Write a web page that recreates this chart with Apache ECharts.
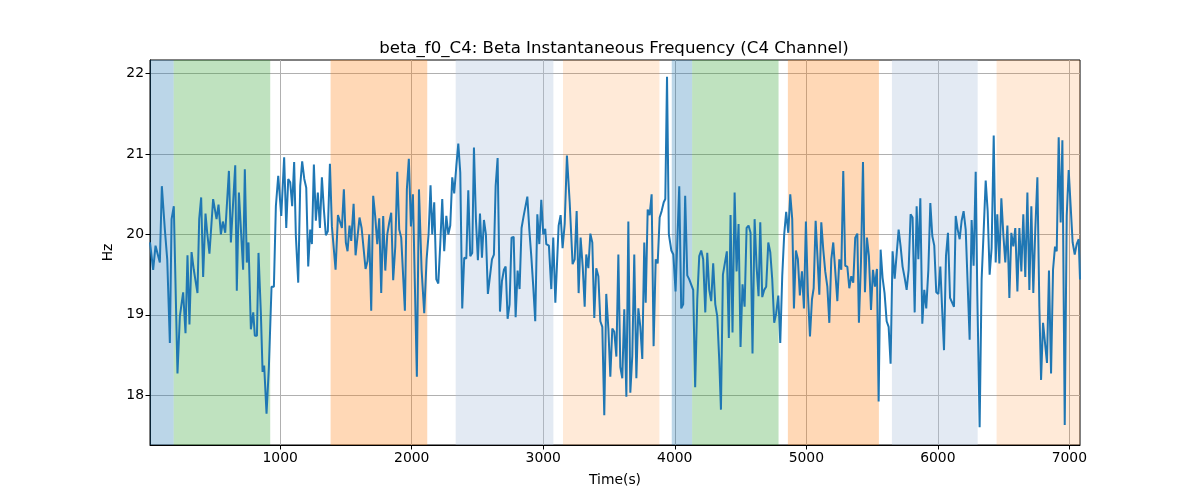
<!DOCTYPE html>
<html>
<head>
<meta charset="utf-8">
<script src="https://cdn.jsdelivr.net/npm/echarts@6/dist/echarts.min.js"></script>
<style>html,body{margin:0;padding:0;background:#fff;}#c{width:1200px;height:500px;}</style>
</head>
<body>
<div id="c"></div>
<script>
const times = [10,34,52,85,100,123,141,161,174,191,219,237,262,280,295,310,326,343,371,384,399,414,432,445,462,490,503,516,531,549,564,582,610,625,658,670,686,718,731,746,759,777,795,807,823,835,853,866,878,896,914,934,952,967,985,1008,
1030,1046,1061,1076,1091,1106,1119,1137,1152,1167,1183,1198,1213,1228,1241,1256,1271,1286,1302,1317,1332,1347,1362,1378,1393,1406,1421,1439,1454,1469,1484,1499,1512,1527,1540,1558,1573,1588,1603,1619,1634,1649,1664,1677,1692,1707,1722,1738,1753,1768,1783,1799,1814,1829,1844,1859,1875,1890,1905,1920,1935,1948,1963,1978,1994,2009,
2022,2039,2055,2075,2095,2113,2128,2143,2156,2171,2187,2202,2217,2232,2247,2263,2278,2293,2308,2323,2339,2354,2369,2384,2399,2415,2430,2445,2460,2473,2488,2503,2519,2534,2549,2564,2579,2595,2610,2625,2638,2653,2671,2686,2701,2714,2729,2744,2759,2775,2790,2805,2820,2835,2851,2866,2879,2894,2909,2924,2939,2955,2970,2985,3000,3015,
3023,3043,3061,3076,3092,3117,3132,3147,3163,3180,3201,3223,3239,3254,3269,3284,3300,3315,3327,3343,3358,3373,3388,3403,3419,3434,3449,3464,3479,3495,3510,3525,3540,3556,3571,3586,3601,3616,3632,3647,3662,3677,3692,3708,3723,3738,3753,3768,3779,3794,3809,3824,3839,3855,3870,3885,3900,3916,3928,3941,3955,3974,3989,4006,
4034,4049,4064,4079,4095,4110,4125,4140,4155,4171,4186,4201,4216,4232,4247,4262,4277,4292,4308,4323,4338,4351,4366,4381,4396,4411,4424,4439,4455,4470,4485,4500,4515,4531,4546,4561,4576,4591,4607,4622,4637,4650,4665,4680,4695,4711,4726,4741,4756,4771,4787,4802,4817,4832,4847,4863,4878,4893,4906,4921,4936,4951,4967,4982,4997,5012,5028,
5043,5056,5071,5086,5099,5114,5129,5144,5160,5175,5190,5205,5220,5236,5251,5266,5281,5296,5312,5327,5342,5357,5372,5388,5400,5416,5431,5446,5461,5476,5492,5507,5522,5537,5550,5565,5580,5595,5611,5626,5641,5656,5672,5687,5702,5717,5732,5748,5763,5778,5793,5808,5824,5839,5852,5867,5882,5897,5912,5928,5943,5958,5973,5988,6004,6019,
6032,6047,6062,6077,6093,6108,6123,6136,6151,6166,6181,6196,6212,6227,6242,6257,6272,6288,6300,6318,6333,6349,6364,6379,6394,6409,6425,6440,6452,6468,6483,6498,6513,6529,6544,6559,6574,6589,6605,6620,6635,6650,6665,6681,6696,6711,6726,6741,6757,6772,6785,6800,6815,6830,6845,6861,6876,6891,6904,6919,6934,6947,6965,6980,6995,7010,7025,7041,7056,7071,7081];

const freqHz = [19.90,19.56,19.86,19.65,20.60,20.06,19.69,18.65,20.19,20.35,18.27,18.98,19.28,18.77,19.74,18.88,19.78,19.56,19.27,20.19,20.46,19.47,20.26,20.02,19.76,20.44,20.42,20.19,20.37,20.00,20.16,20.02,20.79,19.90,20.86,19.30,20.52,19.56,20.81,19.65,19.90,18.82,19.03,18.74,18.74,19.77,19.02,18.29,18.37,17.77,18.35,19.35,19.35,20.35,20.73,20.23,
20.96,20.08,20.69,20.65,20.35,20.90,19.98,19.40,20.60,20.91,20.69,20.58,19.60,20.06,19.88,20.87,20.17,20.52,20.08,20.71,20.31,19.99,20.04,20.88,20.10,20.10,19.56,20.24,20.23,20.08,20.56,19.90,19.79,20.11,19.92,20.38,19.74,19.72,20.21,20.08,20.07,19.57,19.67,20.00,19.05,20.48,20.23,19.88,20.20,19.27,20.23,19.55,20.00,20.15,20.27,19.43,19.85,20.78,20.06,19.96,19.95,19.05,20.56,20.94,20.10,20.50,
20.52,18.23,20.56,19.56,19.02,19.69,20.00,20.61,20.00,20.40,19.44,19.39,19.88,20.44,19.79,20.23,20.00,20.11,20.71,20.51,20.85,21.13,20.77,19.08,19.71,19.70,20.55,19.73,19.77,21.08,20.19,19.68,20.26,19.71,20.18,20.00,19.26,19.48,19.69,19.75,20.60,20.95,19.04,19.42,19.56,19.60,18.95,19.13,19.96,19.97,18.97,19.55,19.32,20.08,20.23,20.24,20.47,20.06,19.73,19.35,18.92,20.25,19.88,20.43,20.00,20.07,
19.88,19.86,19.32,19.96,19.15,20.11,20.24,19.83,20.13,20.98,20.40,19.63,19.69,20.29,19.27,19.96,19.60,19.10,19.75,19.58,20.01,19.90,18.96,19.58,19.48,18.92,18.85,17.75,19.26,18.83,18.23,18.83,18.79,18.48,19.75,18.35,18.21,19.07,17.98,20.16,18.03,18.49,19.75,18.21,19.08,18.85,18.45,19.90,19.15,20.31,20.24,20.50,18.61,19.69,19.64,20.21,20.29,20.40,20.44,21.96,20.00,19.80,19.75,19.29,
20.60,19.08,19.13,20.48,19.49,19.44,19.42,19.31,18.10,19.19,19.73,19.80,19.69,19.03,19.77,19.31,19.17,19.64,19.13,18.98,18.44,17.82,19.50,19.52,19.79,18.71,20.24,18.78,20.52,19.54,20.13,18.60,19.38,19.10,20.08,20.11,20.02,18.52,20.19,19.60,19.23,20.15,19.22,19.31,19.35,19.90,19.78,19.44,18.90,19.02,19.24,18.65,19.48,20.00,20.28,20.02,20.50,20.19,19.08,19.80,19.69,19.24,19.54,19.08,20.16,19.27,18.73,
19.19,19.33,20.17,19.69,19.25,20.15,19.81,19.54,19.35,18.90,19.69,19.90,19.88,19.17,19.69,19.56,20.79,19.61,19.60,19.33,19.48,19.40,19.96,20.01,18.90,19.67,20.90,19.28,19.96,19.73,19.06,19.56,19.35,19.57,17.92,19.81,19.46,19.27,18.92,18.85,18.39,19.79,19.45,19.45,20.06,19.85,19.60,19.46,19.31,19.56,20.25,20.21,19.03,20.35,19.69,20.45,18.89,19.31,19.08,19.56,20.39,19.98,19.86,19.28,19.26,19.60,
19.10,18.56,19.73,20.02,19.21,19.21,19.10,20.23,20.06,19.94,20.17,20.29,20.06,20.07,18.69,20.18,19.61,20.78,19.27,17.60,19.44,20.06,20.67,20.29,19.50,19.83,21.23,19.65,20.25,19.64,20.45,20.00,19.65,20.11,19.21,20.02,19.85,20.08,19.29,20.08,19.54,20.25,19.47,20.52,19.31,20.35,19.27,20.06,20.71,19.10,18.19,18.90,18.89,18.40,19.55,18.27,19.56,19.85,19.79,21.21,20.15,21.17,17.63,20.23,20.80,20.35,19.90,19.75,19.88,19.94,19.44];

const spanStart = [10, 190, 1383, 2334, 3150, 3977, 4132, 4860, 5651, 6447];
const spanEnd   = [190, 924, 2118, 3077, 3883, 4132, 4789, 5552, 6303, 7081];
const spanKind  = ['blue','green','orange','lightblue','lightorange','blue','green','orange','lightblue','lightorange'];

const xTicks = [1000, 2000, 3000, 4000, 5000, 6000, 7000];
const yTicks = [18, 19, 20, 21, 22];

const kindColor = {
  blue: 'rgba(31,119,180,0.3)',
  green: 'rgba(44,160,44,0.3)',
  orange: 'rgba(255,127,14,0.3)',
  lightblue: 'rgba(176,196,222,0.35)',
  lightorange: 'rgba(255,127,14,0.16)'
};

const lineData = times.map((t, i) => [t, freqHz[i]]);
const areas = spanStart.map((s, i) => [
  { xAxis: s, itemStyle: { color: kindColor[spanKind[i]] } },
  { xAxis: spanEnd[i] }
]);

const font = 'DejaVu Sans';
const chart = echarts.init(document.getElementById('c'), null, { renderer: 'canvas' });
chart.setOption({
  animation: false,
  backgroundColor: '#fff',
  title: {
    text: 'beta_f0_C4: Beta Instantaneous Frequency (C4 Channel)',
    left: 609, top: 35, textAlign: 'center',
    textStyle: { fontFamily: font, fontSize: 16.6, fontWeight: 'normal', color: '#000' }
  },
  grid: { left: 150, right: 120, top: 60, bottom: 55, show: true, borderColor: '#000', borderWidth: 1, backgroundColor: 'transparent' },
  xAxis: {
    type: 'value', min: 10, max: 7081,
    name: 'Time(s)', nameLocation: 'middle', nameGap: 28,
    nameTextStyle: { fontFamily: font, fontSize: 13.9, color: '#000' },
    axisLine: { show: true, lineStyle: { color: '#000', width: 1 } },
    axisTick: { show: true, customValues: xTicks, length: 4.5, lineStyle: { color: '#000', width: 1 } },
    axisLabel: { customValues: xTicks, formatter: v => String(v), fontFamily: font, fontSize: 13.9, color: '#000', margin: 6 },
    splitLine: { show: true, lineStyle: { color: '#b0b0b0', width: 1 } }
  },
  yAxis: {
    type: 'value', min: 17.38, max: 22.17,
    name: 'Hz', nameLocation: 'middle', nameGap: 34,
    nameTextStyle: { fontFamily: font, fontSize: 13.9, color: '#000' },
    axisLine: { show: true, lineStyle: { color: '#000', width: 1 } },
    axisTick: { show: true, customValues: yTicks, length: 4.5, lineStyle: { color: '#000', width: 1 } },
    axisLabel: { customValues: yTicks, formatter: v => String(v), fontFamily: font, fontSize: 13.9, color: '#000', margin: 6 },
    splitLine: { show: true, lineStyle: { color: '#b0b0b0', width: 1 } }
  },
  series: [{
    type: 'line',
    data: lineData,
    showSymbol: false,
    symbol: 'none',
    lineStyle: { color: '#1f77b4', width: 2 },
    clip: true,
    silent: true,
    markArea: { silent: true, data: areas, label: { show: false } }
  }]
});
</script>
</body>
</html>
